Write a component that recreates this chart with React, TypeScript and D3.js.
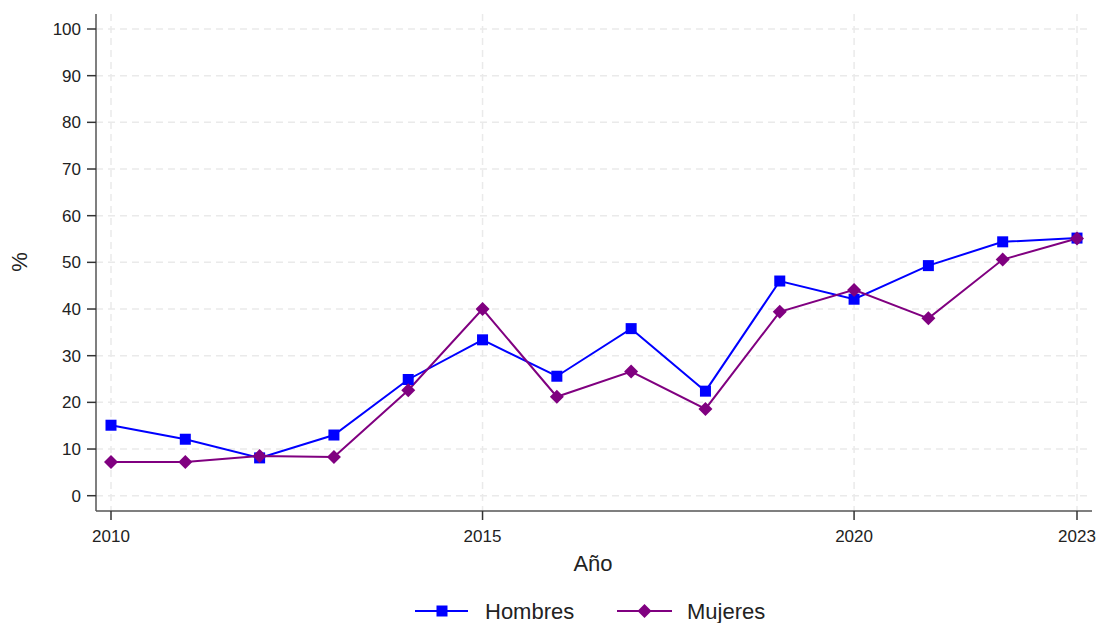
import React from "react";
import * as d3 from "d3";

const years = [2010, 2011, 2012, 2013, 2014, 2015, 2016, 2017, 2018, 2019, 2020, 2021, 2022, 2023];
const hombres = [15.1, 12.1, 8.1, 13.0, 24.9, 33.4, 25.6, 35.8, 22.4, 46.0, 42.1, 49.3, 54.4, 55.2];
const mujeres = [7.2, 7.2, 8.5, 8.3, 22.6, 40.0, 21.2, 26.6, 18.6, 39.4, 44.1, 38.0, 50.6, 55.1];
const yTicks = [0, 10, 20, 30, 40, 50, 60, 70, 80, 90, 100];
const xTicks = [2010, 2015, 2020, 2023];

const W = 1099, H = 623;
const axisX = 96, axisY = 511, topY = 14, rightX = 1092;
const FONT = "'Liberation Sans', Arial, sans-serif";

export default function App() {
  const x = d3.scaleLinear().domain([2010, 2023]).range([111, 1077]);
  const y = d3.scaleLinear().domain([0, 100]).range([495.7, 29]);
  const line = d3.line<number>().x((_, i) => x(years[i])).y(v => y(v));
  const blue = "#0000ff", purple = "#800080";
  const diamond = (cx: number, cy: number, r: number) =>
    `M${cx},${cy - r}L${cx + r},${cy}L${cx},${cy + r}L${cx - r},${cy}Z`;
  return (
    <svg width={W} height={H} style={{ position: "absolute", left: 0, top: 0, background: "#fff" }}>
      <rect width={W} height={H} fill="#fff" />
      {yTicks.map(t => (
        <line key={"gy" + t} x1={axisX} x2={rightX} y1={y(t)} y2={y(t)} stroke="#eaeaea" strokeWidth={1.5} strokeDasharray="7,5" />
      ))}
      {xTicks.map(t => (
        <line key={"gx" + t} x1={x(t)} x2={x(t)} y1={topY} y2={axisY} stroke="#eaeaea" strokeWidth={1.5} strokeDasharray="7,5" />
      ))}
      <line x1={axisX} x2={axisX} y1={topY} y2={axisY} stroke="#555" strokeWidth={1.5} />
      <line x1={axisX} x2={rightX} y1={axisY} y2={axisY} stroke="#555" strokeWidth={1.5} />
      {yTicks.map(t => (
        <g key={"ty" + t}>
          <line x1={axisX - 9} x2={axisX} y1={y(t)} y2={y(t)} stroke="#333" strokeWidth={1.5} />
          <text x={81} y={y(t)} dy="0.35em" textAnchor="end" fontFamily={FONT} fontSize={17} fill="#222">{t}</text>
        </g>
      ))}
      {xTicks.map(t => (
        <g key={"tx" + t}>
          <line x1={x(t)} x2={x(t)} y1={axisY} y2={axisY + 9} stroke="#333" strokeWidth={1.5} />
          <text x={x(t)} y={542} textAnchor="middle" fontFamily={FONT} fontSize={17} fill="#222">{t}</text>
        </g>
      ))}
      <text x={593} y={571} textAnchor="middle" fontFamily={FONT} fontSize={22} fill="#222">Año</text>
      <text transform="translate(27,262) rotate(-90)" textAnchor="middle" fontFamily={FONT} fontSize={22} fill="#222">%</text>

      <path d={line(hombres) || ""} fill="none" stroke={blue} strokeWidth={2} />
      <path d={line(mujeres) || ""} fill="none" stroke={purple} strokeWidth={2} />
      {hombres.map((v, i) => (
        <rect key={"h" + i} x={x(years[i]) - 5.5} y={y(v) - 5.5} width={11} height={11} fill={blue} />
      ))}
      {mujeres.map((v, i) => (
        <path key={"m" + i} d={diamond(x(years[i]), y(v), 7)} fill={purple} />
      ))}

      <line x1={415} x2={468} y1={611} y2={611} stroke={blue} strokeWidth={2} />
      <rect x={442 - 5.5} y={611 - 5.5} width={11} height={11} fill={blue} />
      <text x={485} y={611} dy="0.35em" fontFamily={FONT} fontSize={22} fill="#222">Hombres</text>
      <line x1={617} x2={672} y1={611} y2={611} stroke={purple} strokeWidth={2} />
      <path d={diamond(644.5, 611, 7)} fill={purple} />
      <text x={687} y={611} dy="0.35em" fontFamily={FONT} fontSize={22} fill="#222">Mujeres</text>
    </svg>
  );
}
